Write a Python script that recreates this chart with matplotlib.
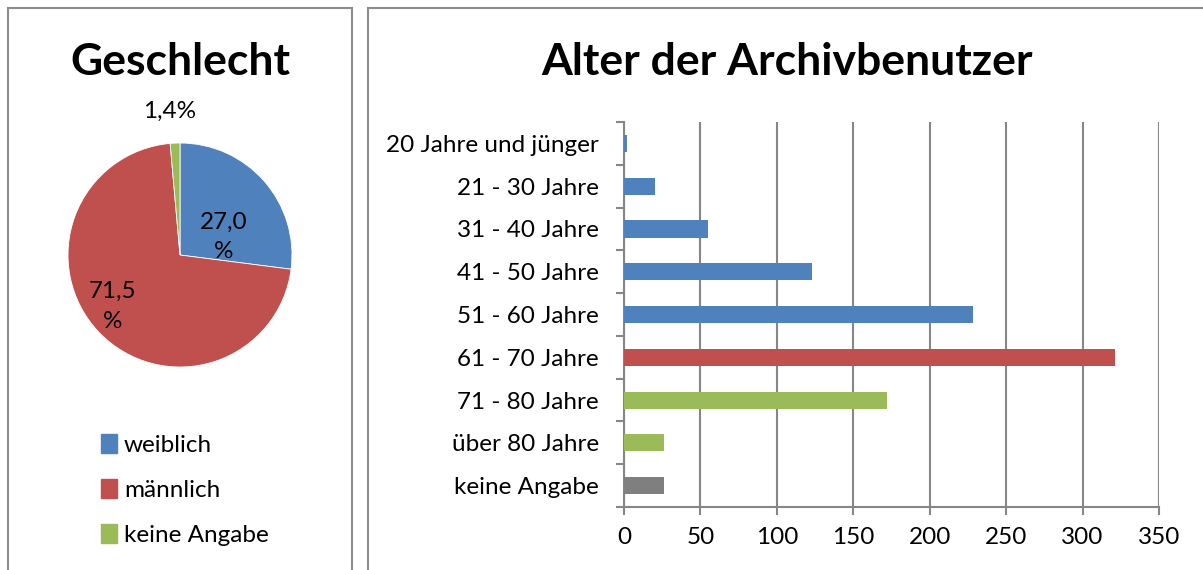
import numpy as np
import matplotlib.pyplot as plt
from matplotlib.patches import Rectangle, Patch

plt.rcParams['font.family'] = ['Lato', 'DejaVu Sans']

# data
sex_labels = ['weiblich', 'männlich', 'keine Angabe']
sex_share = [27.0, 71.5, 1.4]
sex_text = ['27,0\n%', '71,5\n%', '1,4%']

age_labels = ['20 Jahre und jünger', '21 - 30 Jahre', '31 - 40 Jahre', '41 - 50 Jahre',
              '51 - 60 Jahre', '61 - 70 Jahre', '71 - 80 Jahre', 'über 80 Jahre', 'keine Angabe']
age_counts = [2, 20, 55, 123, 228, 321, 172, 26, 26]

blue, red, green, grey = '#4F81BD', '#C0504D', '#9BBB59', '#7F7F7F'
age_colors = [blue] * 5 + [red] + [green] * 2 + [grey]

W, H = 1203, 570
fs = 17.5
fig = plt.figure(figsize=(W / 100, H / 100), dpi=100)

def px(x0, y0, x1, y1):
    # pixel box (top-left origin) -> figure fraction rect
    return [x0 / W, 1 - y1 / H, (x1 - x0) / W, (y1 - y0) / H]

# panel frames
for x0, x1 in [(8, 352), (368, 1215)]:
    fig.patches.append(Rectangle((x0 / W, -0.05), (x1 - x0) / W, 1 - 8 / H + 0.05,
                                 transform=fig.transFigure, fill=False,
                                 edgecolor='#8C8C8C', linewidth=1.5))

# pie
ax1 = fig.add_axes(px(68, 143, 292, 367))
wedges, _ = ax1.pie(sex_share, colors=[blue, red, green], startangle=90,
                    counterclock=False, radius=1,
                    wedgeprops=dict(edgecolor='white', linewidth=0.6))
ax1.set_xlim(-1, 1)
ax1.set_ylim(-1, 1)
ax1.set_aspect('equal')
lbl_pos = [(0.39, 0.16), (-0.60, -0.46), (-0.09, 1.28)]
for (lx, ly), t in zip(lbl_pos, sex_text):
    ax1.text(lx, ly, t, ha='center', va='center', fontsize=fs, linespacing=1.5)
fig.text(180 / W, 1 - 62 / H, 'Geschlecht', ha='center', va='center',
         fontsize=32, fontweight='bold')
handles = [Patch(color=c) for c in [blue, red, green]]
fig.legend(handles, sex_labels, loc='center left', bbox_to_anchor=(101 / W, 1 - 490 / H),
           frameon=False, fontsize=fs, handlelength=0.65, handleheight=0.8,
           handletextpad=0.3, labelspacing=0.95, borderpad=0, borderaxespad=0)

# bar chart
ax2 = fig.add_axes(px(624, 122, 1159, 507))
y = np.arange(len(age_labels))
ax2.barh(y, age_counts, height=0.4, color=age_colors, zorder=3)
ax2.set_xlim(0, 350)
ax2.set_ylim(len(age_labels) - 0.5, -0.5)
ax2.set_xticks(np.arange(0, 351, 50))
ax2.set_yticks(y)
ax2.set_yticklabels(age_labels)
ax2.set_yticks(np.arange(-0.5, len(age_labels)), minor=True)
ax2.tick_params(axis='y', which='major', length=0, pad=18, labelsize=fs)
ax2.tick_params(axis='y', which='minor', length=6, width=1.5, color='#868686')
ax2.tick_params(axis='x', length=5.5, width=1.5, color='#868686', pad=9, labelsize=fs)
ax2.grid(axis='x', color='#868686', linewidth=1.5, zorder=0)
for s in ['top', 'right']:
    ax2.spines[s].set_visible(False)
for s in ['left', 'bottom']:
    ax2.spines[s].set_color('#868686')
    ax2.spines[s].set_linewidth(1.5)
fig.text(787 / W, 1 - 62 / H, 'Alter der Archivbenutzer', ha='center', va='center',
         fontsize=32, fontweight='bold')

fig.savefig('out.png', dpi=100)
